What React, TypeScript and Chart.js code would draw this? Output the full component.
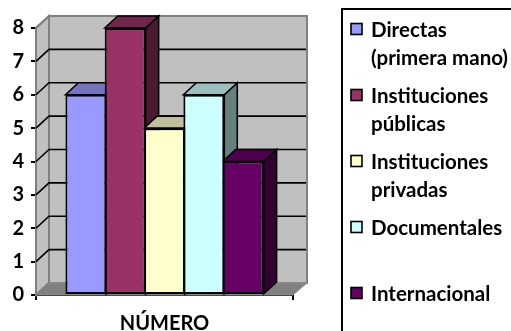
import React, { useEffect, useRef } from "react";
import { Chart, registerables } from "chart.js";

Chart.register(...registerables);

const categories = ["NÚMERO"];
const seriesNames = ["Directas", "Instituciones públicas", "Instituciones privadas", "Documentales", "Internacional"];
const legendLines = [
  ["Directas", "(primera mano)"],
  ["Instituciones", "públicas"],
  ["Instituciones", "privadas"],
  ["Documentales", ""],
  ["Internacional", ""],
];
const directas = [6];
const publicas = [8];
const privadas = [5];
const documentales = [6];
const internacional = [4];
const seriesValues = [directas, publicas, privadas, documentales, internacional];
const frontColors = ["#9999FF", "#993366", "#FFFFCC", "#CCFFFF", "#660066"];
const topColors = ["#7373BF", "#73264D", "#BFBF99", "#99BFBF", "#4D004D"];
const sideColors = ["#4D4D80", "#4D1A33", "#808066", "#668080", "#330033"];

const FONT = "Lato, Carlito, sans-serif";
const DEPTH_X = 13;
const DEPTH_Y = -12;

function fillPoly(ctx: CanvasRenderingContext2D, pts: number[][], fill: string, stroke: string, lw: number) {
  ctx.beginPath();
  pts.forEach((p, i) => (i ? ctx.lineTo(p[0], p[1]) : ctx.moveTo(p[0], p[1])));
  ctx.closePath();
  ctx.fillStyle = fill;
  ctx.fill();
  if (lw > 0) {
    ctx.strokeStyle = stroke;
    ctx.lineWidth = lw;
    ctx.stroke();
  }
}

// Back wall, side wall, floor and the receding faces of each column.
const depthPlugin = {
  id: "depth",
  beforeDatasetsDraw(chart: any) {
    const { ctx, chartArea: a, scales } = chart;
    const y = scales.y;
    const wallL = a.left + DEPTH_X;
    const wallR = a.right + DEPTH_X + 1;
    const wallT = a.top + DEPTH_Y;
    const wallB = a.bottom + DEPTH_Y;
    ctx.save();
    fillPoly(ctx, [[wallL, wallT], [wallR, wallT], [wallR, wallB], [wallL, wallB]], "#C0C0C0", "#808080", 2);
    fillPoly(ctx, [[a.left, a.top], [wallL, wallT], [wallL, wallB], [a.left, a.bottom]], "#C0C0C0", "#808080", 2);
    fillPoly(ctx, [[a.left, a.bottom], [wallL, wallB], [wallR, wallB], [a.right, a.bottom]], "#808080", "#909090", 1);
    y.ticks.forEach((t: any) => {
      const py = y.getPixelForValue(t.value);
      const inner = t.value > y.min && t.value < y.max;
      ctx.strokeStyle = inner ? "#000000" : "#808080";
      ctx.lineWidth = inner ? 1.6 : 2;
      ctx.beginPath();
      ctx.moveTo(a.left, py);
      ctx.lineTo(wallL, py + DEPTH_Y);
      if (inner) ctx.lineTo(wallR - 1, py + DEPTH_Y);
      ctx.stroke();
    });
    chart.data.datasets.forEach((_: any, i: number) => {
      const bar = chart.getDatasetMeta(i).data[0];
      const l = bar.x - bar.width / 2;
      const r = bar.x + bar.width / 2;
      const t = bar.y;
      const b = bar.base;
      fillPoly(ctx, [[r, t], [r + DEPTH_X, t + DEPTH_Y], [r + DEPTH_X, b + DEPTH_Y], [r, b]], sideColors[i], "#000000", 1.6);
      fillPoly(ctx, [[l, t], [l + DEPTH_X, t + DEPTH_Y], [r + DEPTH_X, t + DEPTH_Y], [r, t]], topColors[i], "#000000", 1.6);
    });
    ctx.restore();
  },
};

// Boxed key on the right; its frame runs past the canvas edges.
const keyPlugin = {
  id: "key",
  afterDraw(chart: any) {
    const { ctx } = chart;
    ctx.save();
    ctx.strokeStyle = "#000000";
    ctx.lineWidth = 2;
    ctx.strokeRect(342, 9, 200, 360);
    ctx.font = `700 20.5px ${FONT}`;
    ctx.textBaseline = "middle";
    ctx.textAlign = "left";
    legendLines.forEach((lines, i) => {
      const cy = 30 + i * 66;
      ctx.fillStyle = frontColors[i];
      ctx.fillRect(351, cy - 6.5, 11, 11);
      ctx.strokeStyle = "#000000";
      ctx.lineWidth = 1.6;
      ctx.strokeRect(351, cy - 6.5, 11, 11);
      ctx.fillStyle = "#000000";
      ctx.fillText(lines[0], 371, cy);
      if (lines[1]) ctx.fillText(lines[1], 371, cy + 28);
    });
    ctx.restore();
  },
};

export default function App() {
  const ref = useRef<HTMLCanvasElement>(null);
  useEffect(() => {
    document.body.style.margin = "0";
    const chart = new Chart(ref.current!, {
      type: "bar",
      data: {
        labels: categories,
        datasets: seriesNames.map((name, i) => ({
          label: name,
          data: seriesValues[i],
          backgroundColor: frontColors[i],
          borderColor: "#000000",
          borderWidth: 2,
          borderSkipped: false,
          barPercentage: 1.04,
          categoryPercentage: 0.765,
          clip: false,
        })),
      },
      options: {
        responsive: false,
        animation: false,
        layout: { padding: { left: 0, top: 28, right: 218, bottom: 0 } },
        plugins: { legend: { display: false }, tooltip: { enabled: false } },
        scales: {
          x: {
            grid: { drawOnChartArea: false, color: "#000000", tickLength: 5, lineWidth: 2 },
            border: { color: "#000000", width: 2 },
            ticks: { color: "#000000", font: { family: FONT, size: 20, weight: "700" }, padding: 12 },
            afterFit: (s: any) => { s.height = 36; },
          },
          y: {
            min: 0,
            max: 8,
            grid: { drawOnChartArea: false, color: "#000000", tickLength: 5, lineWidth: 2 },
            border: { color: "#000000", width: 2 },
            ticks: { stepSize: 1, color: "#000000", font: { family: FONT, size: 20, weight: "700" }, padding: 7 },
            afterFit: (s: any) => { s.width = 36; },
          },
        },
      },
      plugins: [depthPlugin, keyPlugin],
    } as any);
    return () => chart.destroy();
  }, []);
  return <canvas ref={ref} width={511} height={331} style={{ display: "block" }} />;
}
